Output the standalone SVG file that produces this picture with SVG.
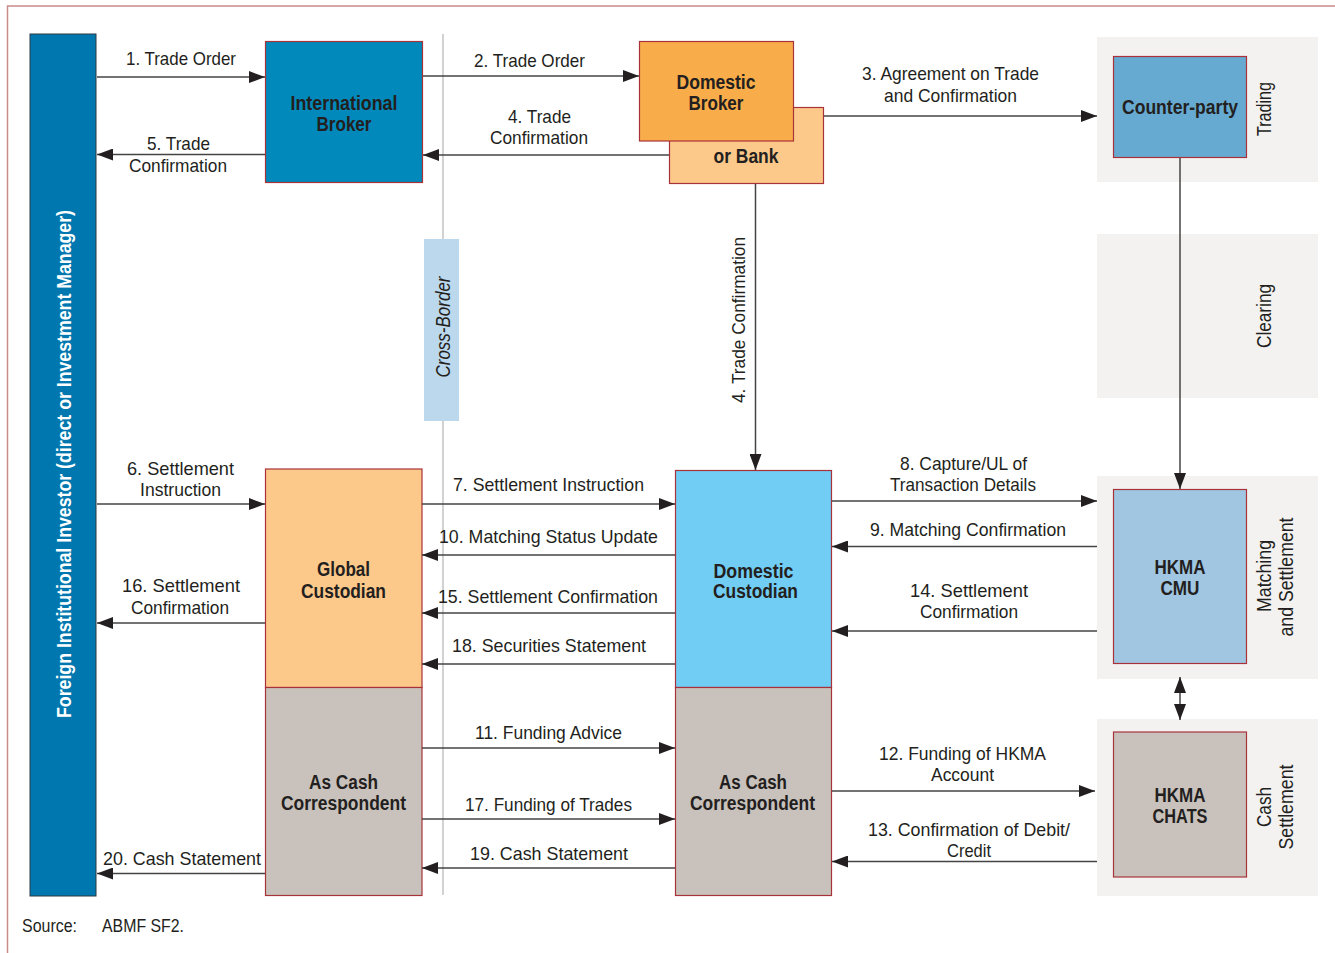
<svg xmlns="http://www.w3.org/2000/svg" width="1335" height="953" viewBox="0 0 1335 953">
<defs>
<marker id="ah" markerUnits="userSpaceOnUse" markerWidth="16" markerHeight="12" refX="16" refY="6" orient="auto-start-reverse" viewBox="0 0 16 12">
<path d="M0,0 L16,6 L0,12 z" fill="#231f20"/>
</marker>
<style>
.lbl{font-family:"Liberation Sans",Arial,sans-serif;font-size:19px;fill:#231f20;text-anchor:middle}
.bold{font-family:"Liberation Sans",Arial,sans-serif;font-size:19.5px;font-weight:bold;fill:#231f20;text-anchor:middle}
.side{font-family:"Liberation Sans",Arial,sans-serif;font-size:19.5px;fill:#231f20;text-anchor:middle}
.node{stroke:#a8323a;stroke-width:1.2}
.panel{fill:#f3f2f1}
.conn line{stroke:#444;stroke-width:1.5;marker-end:url(#ah)}
</style>
</defs>
<rect width="1335" height="953" fill="#ffffff"/>
<path d="M7.5,953 V6 H1335" fill="none" stroke="#c98a8a" stroke-width="1.5"/>

<g id="panels">
<rect class="panel" x="1097" y="37" width="221" height="145"/>
<rect class="panel" x="1097" y="234" width="221" height="164"/>
<rect class="panel" x="1097" y="476" width="221" height="203"/>
<rect class="panel" x="1097" y="719" width="221" height="177"/>
<text class="side" transform="translate(1271,109) rotate(-90)" textLength="54" lengthAdjust="spacingAndGlyphs">Trading</text>
<text class="side" transform="translate(1271,316) rotate(-90)" textLength="64" lengthAdjust="spacingAndGlyphs">Clearing</text>
<text class="side" transform="translate(1271,576) rotate(-90)" textLength="72" lengthAdjust="spacingAndGlyphs">Matching</text>
<text class="side" transform="translate(1293,577) rotate(-90)" textLength="119" lengthAdjust="spacingAndGlyphs">and Settlement</text>
<text class="side" transform="translate(1271,807) rotate(-90)" textLength="40" lengthAdjust="spacingAndGlyphs">Cash</text>
<text class="side" transform="translate(1293,807) rotate(-90)" textLength="85" lengthAdjust="spacingAndGlyphs">Settlement</text>
</g>

<g id="divider">
<line x1="443" y1="34" x2="443" y2="895" stroke="#d2d2d2" stroke-width="2"/>
<rect x="424" y="239" width="35" height="182" fill="#bcd8ec"/>
<text class="side" font-style="italic" transform="translate(450,327) rotate(-90)" textLength="101" lengthAdjust="spacingAndGlyphs">Cross-Border</text>
</g>

<g id="investor">
<rect x="30" y="34" width="66" height="862" fill="#0077ae" stroke="#2b3a44" stroke-width="1"/>
<text class="bold" style="fill:#ffffff" transform="translate(71,464) rotate(-90)" textLength="508" lengthAdjust="spacingAndGlyphs">Foreign Institutional Investor (direct or Investment Manager)</text>
</g>

<g id="intl-broker">
<rect class="node" x="265.5" y="41.5" width="157" height="141" fill="#0189bb"/>
<text class="bold" x="344" y="110" textLength="107" lengthAdjust="spacingAndGlyphs">International</text>
<text class="bold" x="344" y="131" textLength="55" lengthAdjust="spacingAndGlyphs">Broker</text>
</g>

<g id="or-bank">
<rect class="node" x="669.5" y="107.5" width="154" height="76" fill="#fdc98a"/>
<text class="bold" x="746" y="163" textLength="65" lengthAdjust="spacingAndGlyphs">or Bank</text>
</g>

<g id="domestic-broker">
<rect class="node" x="639.5" y="41.5" width="154" height="99.5" fill="#f9ad4a"/>
<text class="bold" x="716" y="89" textLength="79" lengthAdjust="spacingAndGlyphs">Domestic</text>
<text class="bold" x="716" y="110" textLength="55" lengthAdjust="spacingAndGlyphs">Broker</text>
</g>

<g id="counterparty">
<rect class="node" x="1113.5" y="56.5" width="133" height="101" fill="#66aad2"/>
<text class="bold" x="1180" y="114" textLength="116" lengthAdjust="spacingAndGlyphs">Counter-party</text>
</g>

<g id="global-custodian">
<rect class="node" x="265.5" y="469" width="156.5" height="218.5" fill="#fdc98a"/>
<text class="bold" x="343.5" y="576" textLength="53" lengthAdjust="spacingAndGlyphs">Global</text>
<text class="bold" x="343.5" y="598" textLength="85" lengthAdjust="spacingAndGlyphs">Custodian</text>
</g>

<g id="global-cash">
<rect class="node" x="265.5" y="687.5" width="156.5" height="208" fill="#c9c2bc"/>
<text class="bold" x="343.5" y="789" textLength="69" lengthAdjust="spacingAndGlyphs">As Cash</text>
<text class="bold" x="343.5" y="810" textLength="125" lengthAdjust="spacingAndGlyphs">Correspondent</text>
</g>

<g id="domestic-custodian">
<rect class="node" x="675.5" y="470.5" width="156" height="217" fill="#71cdf4"/>
<text class="bold" x="753.5" y="578" textLength="80" lengthAdjust="spacingAndGlyphs">Domestic</text>
<text class="bold" x="755.5" y="598" textLength="85" lengthAdjust="spacingAndGlyphs">Custodian</text>
</g>

<g id="domestic-cash">
<rect class="node" x="675.5" y="687.5" width="156" height="208" fill="#c9c2bc"/>
<text class="bold" x="753" y="789" textLength="68" lengthAdjust="spacingAndGlyphs">As Cash</text>
<text class="bold" x="752.5" y="810" textLength="125" lengthAdjust="spacingAndGlyphs">Correspondent</text>
</g>

<g id="hkma-cmu">
<rect class="node" x="1113.5" y="489.5" width="133" height="174" fill="#a0c6e2"/>
<text class="bold" x="1180" y="574" textLength="51" lengthAdjust="spacingAndGlyphs">HKMA</text>
<text class="bold" x="1180" y="595" textLength="39" lengthAdjust="spacingAndGlyphs">CMU</text>
</g>

<g id="hkma-chats">
<rect class="node" x="1113.5" y="732" width="133" height="145" fill="#c9c2bc"/>
<text class="bold" x="1180" y="802" textLength="51" lengthAdjust="spacingAndGlyphs">HKMA</text>
<text class="bold" x="1180" y="823" textLength="55" lengthAdjust="spacingAndGlyphs">CHATS</text>
</g>

<g id="connectors" class="conn">
<line x1="97" y1="77" x2="265" y2="77"/>
<line x1="423" y1="76" x2="639" y2="76"/>
<line x1="824" y1="116" x2="1097" y2="116"/>
<line x1="669" y1="155" x2="423" y2="155"/>
<line x1="265" y1="154.5" x2="97" y2="154.5"/>
<line x1="755.5" y1="184" x2="755.5" y2="470"/>
<line x1="1180" y1="158" x2="1180" y2="489"/>
<line x1="1180" y1="677" x2="1180" y2="720" style="marker-start:url(#ah)"/>
<line x1="97" y1="504" x2="265" y2="504"/>
<line x1="265" y1="623" x2="97" y2="623"/>
<line x1="265" y1="873.5" x2="97" y2="873.5"/>
<line x1="422" y1="504" x2="675" y2="504"/>
<line x1="675" y1="555" x2="422" y2="555"/>
<line x1="675" y1="613" x2="422" y2="613"/>
<line x1="675" y1="664" x2="422" y2="664"/>
<line x1="422" y1="748" x2="675" y2="748"/>
<line x1="422" y1="819" x2="675" y2="819"/>
<line x1="675" y1="868" x2="422" y2="868"/>
<line x1="832" y1="501" x2="1097" y2="501"/>
<line x1="1097" y1="546.5" x2="832" y2="546.5"/>
<line x1="1097" y1="631" x2="832" y2="631"/>
<line x1="832" y1="791" x2="1095" y2="791"/>
<line x1="1097" y1="861.5" x2="832" y2="861.5"/>
</g>

<g id="labels">
<text class="lbl" x="181" y="65" textLength="110" lengthAdjust="spacingAndGlyphs">1. Trade Order</text>
<text class="lbl" x="529.5" y="67" textLength="111" lengthAdjust="spacingAndGlyphs">2. Trade Order</text>
<text class="lbl" x="950.5" y="80" textLength="177" lengthAdjust="spacingAndGlyphs">3. Agreement on Trade</text>
<text class="lbl" x="950.5" y="102" textLength="133" lengthAdjust="spacingAndGlyphs">and Confirmation</text>
<text class="lbl" x="539.5" y="123" textLength="63" lengthAdjust="spacingAndGlyphs">4. Trade</text>
<text class="lbl" x="539" y="144" textLength="98" lengthAdjust="spacingAndGlyphs">Confirmation</text>
<text class="lbl" x="178.5" y="150" textLength="63" lengthAdjust="spacingAndGlyphs">5. Trade</text>
<text class="lbl" x="178" y="172" textLength="98" lengthAdjust="spacingAndGlyphs">Confirmation</text>
<text class="lbl" transform="translate(745,320) rotate(-90)" textLength="166" lengthAdjust="spacingAndGlyphs">4. Trade Confirmation</text>
<text class="lbl" x="180.5" y="475" textLength="107" lengthAdjust="spacingAndGlyphs">6. Settlement</text>
<text class="lbl" x="180.5" y="496" textLength="81" lengthAdjust="spacingAndGlyphs">Instruction</text>
<text class="lbl" x="181" y="592" textLength="118" lengthAdjust="spacingAndGlyphs">16. Settlement</text>
<text class="lbl" x="180" y="614" textLength="98" lengthAdjust="spacingAndGlyphs">Confirmation</text>
<text class="lbl" x="182" y="865" textLength="158" lengthAdjust="spacingAndGlyphs">20. Cash Statement</text>
<text class="lbl" x="548.5" y="491" textLength="191" lengthAdjust="spacingAndGlyphs">7. Settlement Instruction</text>
<text class="lbl" x="548.5" y="543" textLength="219" lengthAdjust="spacingAndGlyphs">10. Matching Status Update</text>
<text class="lbl" x="548" y="603" textLength="220" lengthAdjust="spacingAndGlyphs">15. Settlement Confirmation</text>
<text class="lbl" x="549" y="652" textLength="194" lengthAdjust="spacingAndGlyphs">18. Securities Statement</text>
<text class="lbl" x="548.5" y="739" textLength="147" lengthAdjust="spacingAndGlyphs">11. Funding Advice</text>
<text class="lbl" x="548.5" y="811" textLength="167" lengthAdjust="spacingAndGlyphs">17. Funding of Trades</text>
<text class="lbl" x="549" y="860" textLength="158" lengthAdjust="spacingAndGlyphs">19. Cash Statement</text>
<text class="lbl" x="963.5" y="470" textLength="127" lengthAdjust="spacingAndGlyphs">8. Capture/UL of</text>
<text class="lbl" x="963" y="491" textLength="146" lengthAdjust="spacingAndGlyphs">Transaction Details</text>
<text class="lbl" x="968" y="536" textLength="196" lengthAdjust="spacingAndGlyphs">9. Matching Confirmation</text>
<text class="lbl" x="969" y="597" textLength="118" lengthAdjust="spacingAndGlyphs">14. Settlement</text>
<text class="lbl" x="969" y="618" textLength="98" lengthAdjust="spacingAndGlyphs">Confirmation</text>
<text class="lbl" x="962.5" y="760" textLength="167" lengthAdjust="spacingAndGlyphs">12. Funding of HKMA</text>
<text class="lbl" x="962.5" y="781" textLength="63" lengthAdjust="spacingAndGlyphs">Account</text>
<text class="lbl" x="969" y="836" textLength="202" lengthAdjust="spacingAndGlyphs">13. Confirmation of Debit/</text>
<text class="lbl" x="969" y="857" textLength="44" lengthAdjust="spacingAndGlyphs">Credit</text>
</g>

<g id="source">
<text class="lbl" style="text-anchor:start;font-size:18px" x="22" y="932" textLength="55" lengthAdjust="spacingAndGlyphs">Source:</text>
<text class="lbl" style="text-anchor:start;font-size:18px" x="102" y="932" textLength="82" lengthAdjust="spacingAndGlyphs">ABMF SF2.</text>
</g>
</svg>
